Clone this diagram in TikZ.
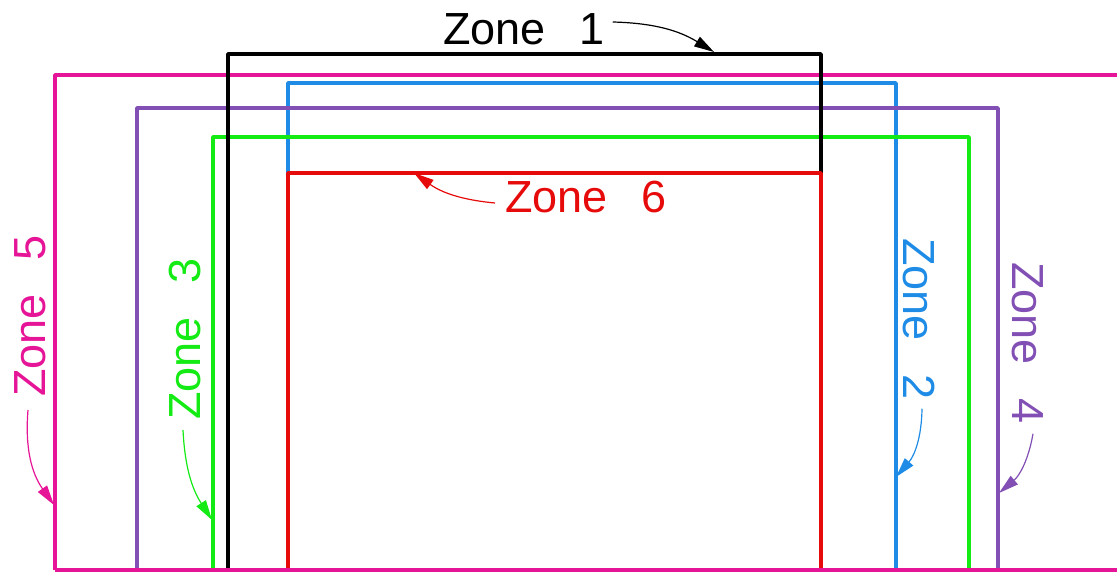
\documentclass[tikz,border=0pt]{standalone}
\usepackage{fontspec}
\setmainfont{Liberation Sans}
\usetikzlibrary{arrows.meta}

\definecolor{zmag}{RGB}{230,20,150}
\definecolor{zblue}{RGB}{30,140,230}
\definecolor{zpurple}{RGB}{130,80,180}
\definecolor{zgreen}{RGB}{20,235,20}
\definecolor{zred}{RGB}{230,10,10}

\newcommand{\zn}[1]{Zone\hspace{0.75em}#1}

\begin{document}
\begin{tikzpicture}[x=1pt, y=1pt,
            zone/.style = {line width=3.5pt, line join=round},
            every node/.style = {inner sep=0pt, font=\fontsize{45}{54}\selectfont},
            lbl/.style = {anchor=base west},
            ptr/.style = {line width=1.2pt, -{Triangle[length=20pt,width=11pt]}},
            ]
            \useasboundingbox (0,0) rectangle (1117,574);

            % zone outlines
            \draw[zone, zblue] (288,4) -- (288,491) -- (896,491) -- (896,4);
            \draw[zone, zmag] (1117,499) -- (55,499) -- (55,4);
            \draw[zone, zpurple] (137,4) -- (137,466) -- (998,466) -- (998,4);
            \draw[zone, zgreen] (213,4) -- (213,437) -- (969,437) -- (969,4);
            \draw[zone] (228,4) -- (228,520) -- (821,520) -- (821,4);
            \draw[zone, zred] (288,4) -- (288,401) -- (821,401) -- (821,4);
            \draw[zone, zmag] (55,4) -- (1117,4);

            % labels
            \node[lbl] (z1) at (443,529) {\zn{1}};
            \node[lbl, zred] (z6) at (505,361) {\zn{6}};
            \node[lbl, zmag, rotate=90] (z5) at (45,177) {\zn{5}};
            \node[lbl, zgreen, rotate=90] (z3) at (200,154) {\zn{3}};
            \node[lbl, zblue, rotate=-90] (z2) at (903,336) {\zn{2}};
            \node[lbl, zpurple, rotate=-90] (z4) at (1012,312) {\zn{4}};

            \coordinate (t1) at (714,522);
            \coordinate (t6) at (414,401);
            \coordinate (t5) at (54,69);
            \coordinate (t3) at (212,54);
            \coordinate (t2) at (896,97);
            \coordinate (t4) at (999,81);

            % pointers
            \draw[ptr] ([xshift=8pt,yshift=23pt]z1.base east) to[bend left=15] (t1);
            \draw[ptr, zred] ([xshift=-10pt,yshift=10pt]z6.base west) to[bend left=15] (t6);
            \draw[ptr, zmag] ([xshift=-17pt,yshift=-13pt]z5.base west) to[bend right=20] (t5);
            \draw[ptr, zgreen] ([xshift=-17pt,yshift=-10pt]z3.base west) to[bend right=15] (t3);
            \draw[ptr, zblue] ([xshift=19pt,yshift=-9pt]z2.base east) to[bend left=20] (t2);
            \draw[ptr, zpurple] ([xshift=21pt,yshift=-10pt]z4.base east) to[bend left=20] (t4);
        \end{tikzpicture}
\end{document}
